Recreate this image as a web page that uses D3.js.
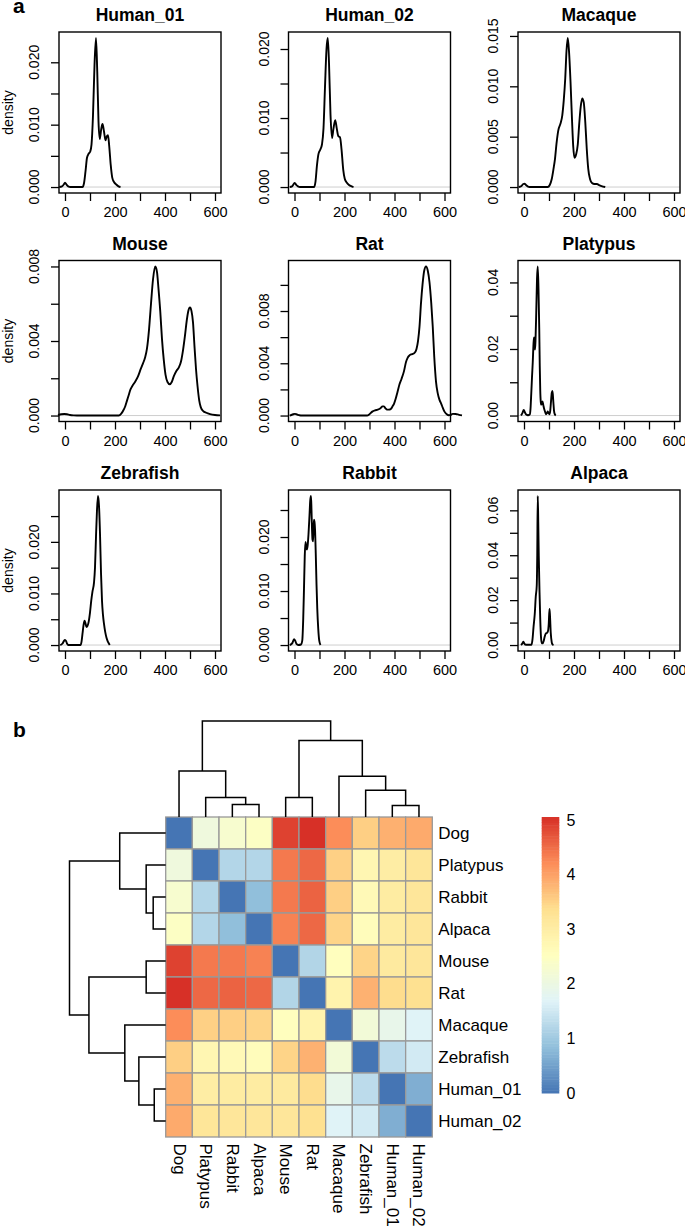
<!DOCTYPE html>
<html><head><meta charset="utf-8">
<script src="https://cdn.jsdelivr.net/npm/d3@7"></script>
<style>
html,body{margin:0;padding:0;background:#fff;}
svg{display:block;font-family:"Liberation Sans",Arial,Helvetica,sans-serif;}
</style></head><body>
<svg id="chart" width="685" height="1232"></svg>
<script>
// ---------------- DATA: panel a (density curves) ----------------
const panelNames = ["Human_01","Human_02","Macaque","Mouse","Rat","Platypus","Zebrafish","Rabbit","Alpaca"];

const densHuman01 = [[-23,0],[-12,0.0001],[-5,0.0004],[0,0.0007],[6,0.0004],[13,0.0001],[22,0],[70,0],[76,0.0006],[82,0.0025],[88,0.0047],[94,0.0053],[101,0.0057],[106,0.0068],[112,0.0115],[118,0.0195],[124,0.0239],[129,0.0185],[134,0.0105],[139,0.0077],[145,0.0093],[150,0.0101],[156,0.0089],[162,0.0075],[167,0.0081],[172,0.0083],[177,0.0065],[183,0.0035],[189,0.0015],[196,0.0008],[205,0.0004],[214,0.0001],[222,0]];
const densHuman02 = [[-19,0],[-10,0.0001],[-4,0.0004],[1,0.0006],[7,0.0003],[14,0.0001],[22,0],[78,0],[84,0.0008],[90,0.0032],[96,0.0048],[104,0.0055],[110,0.0062],[116,0.0085],[122,0.0145],[128,0.0200],[133,0.0216],[138,0.0180],[144,0.0105],[150,0.0071],[156,0.0085],[163,0.0097],[169,0.0085],[175,0.0074],[182,0.0072],[188,0.0055],[195,0.0025],[201,0.0012],[208,0.0007],[218,0.0003],[228,0.0001],[236,0]];
const densMacaque = [[-21,0],[-10,0.0001],[-3,0.0003],[2,0.00033],[8,0.0002],[16,0.00005],[28,0],[95,0],[103,0.0002],[111,0.0008],[118,0.0018],[124,0.0028],[130,0.0043],[137,0.0056],[146,0.0063],[153,0.0071],[159,0.0086],[165,0.0108],[170,0.0135],[175,0.0148],[180,0.0135],[186,0.0105],[192,0.0067],[197,0.0040],[202,0.0029],[208,0.0032],[215,0.0042],[221,0.0063],[227,0.0080],[233,0.0088],[239,0.0084],[245,0.0065],[251,0.0038],[257,0.0018],[264,0.0008],[272,0.0004],[282,0.0003],[292,0.0003],[300,0.0002],[310,0.0001],[325,0]];
const densMouse = [[-28,0.00003],[-15,0.00007],[-3,0.00008],[8,0.00007],[20,0.00003],[35,0.00001],[60,0],[215,0],[225,0.0001],[233,0.00027],[241,0.0005],[248,0.0008],[255,0.0011],[262,0.0014],[270,0.0016],[280,0.0018],[292,0.0021],[303,0.0025],[312,0.0028],[320,0.0031],[328,0.0036],[336,0.0046],[344,0.0060],[352,0.0073],[361,0.0080],[368,0.0077],[374,0.0068],[381,0.0056],[388,0.0041],[395,0.0030],[402,0.0022],[410,0.0018],[419,0.00168],[427,0.0018],[435,0.0021],[446,0.0024],[456,0.0026],[464,0.0029],[472,0.0035],[480,0.0043],[487,0.0051],[493,0.0056],[500,0.0058],[506,0.0056],[512,0.0050],[518,0.0037],[524,0.0025],[530,0.0016],[537,0.0008],[543,0.00045],[553,0.00024],[565,0.00015],[580,0.00008],[600,0.00003],[620,0.00001]];
const densRat = [[-19,0],[-8,0.00008],[1,0.00013],[10,0.00008],[20,0.00002],[30,0],[290,0],[300,0.0001],[311,0.0003],[322,0.0004],[333,0.00045],[344,0.00056],[352,0.0007],[358,0.0007],[364,0.00055],[370,0.00045],[378,0.00045],[385,0.0005],[392,0.0007],[398,0.0009],[405,0.0013],[412,0.0018],[420,0.0024],[428,0.0028],[438,0.0034],[446,0.0041],[452,0.0044],[460,0.0046],[470,0.0047],[480,0.0048],[488,0.0051],[494,0.0057],[500,0.0068],[506,0.0086],[512,0.0100],[519,0.0111],[526,0.01141],[533,0.0111],[540,0.0102],[547,0.0086],[553,0.0068],[559,0.0045],[566,0.0026],[573,0.0017],[580,0.0012],[587,0.0009],[593,0.0006],[600,0.0003],[609,0.0001],[617,0.00002],[625,0.00005],[633,0.00013],[645,0.00012],[658,0.00005],[670,0.00001]];
const densPlatypus = [[-12,0],[-6,0.0008],[-1,0.0017],[4,0.0009],[9,0.0003],[16,0.0001],[23,0.0003],[26,0.002],[29,0.0065],[32,0.0115],[35,0.016],[38,0.0215],[40,0.0235],[42,0.0225],[44,0.0198],[46,0.0225],[49,0.031],[52,0.041],[55,0.0448],[58,0.038],[61,0.026],[63,0.015],[65,0.0075],[67,0.0042],[69,0.0033],[71,0.0035],[74,0.0042],[77,0.0032],[80,0.0022],[84,0.0012],[88,0.0004],[92,0.0008],[95,0.0012],[99,0.0006],[102,0.0004],[105,0.0015],[108,0.0042],[111,0.0068],[114,0.0074],[117,0.0045],[120,0.0015],[123,0.0004],[127,0]];
const densZebrafish = [[-19,0],[-10,0.0003],[-4,0.0008],[0,0.001],[4,0.0008],[8,0.0003],[13,0],[62,0],[66,0.0006],[70,0.0022],[74,0.0038],[78,0.0047],[82,0.0042],[86,0.0035],[90,0.0037],[95,0.0046],[100,0.0063],[105,0.0086],[110,0.0104],[116,0.0121],[120,0.0150],[124,0.0210],[128,0.0262],[132,0.0289],[136,0.0270],[140,0.0216],[144,0.0140],[148,0.0086],[152,0.0058],[156,0.0041],[161,0.0025],[166,0.0014],[172,0.0006],[179,0]];
const densRabbit = [[-19,0],[-8,0.0004],[-2,0.0011],[3,0.0008],[8,0.0002],[15,0],[26,0.0001],[31,0.0008],[35,0.005],[38,0.0105],[41,0.0165],[44,0.0191],[47,0.0181],[50,0.0177],[53,0.0186],[56,0.0205],[60,0.0240],[63,0.0268],[66,0.0276],[68,0.0250],[70,0.0215],[72,0.0195],[74,0.0192],[76,0.0215],[78,0.0232],[80,0.0228],[82,0.0215],[85,0.0170],[88,0.0113],[91,0.0068],[95,0.0030],[99,0.0008],[104,0]];
const densAlpaca = [[-12,0],[-6,0.0008],[-3,0.0015],[1,0.0008],[5,0.0002],[12,0.0001],[30,0.0001],[34,0.0025],[38,0.0079],[43,0.0138],[47,0.0215],[51,0.0265],[53,0.040],[55,0.0664],[57,0.055],[59,0.040],[62,0.024],[65,0.0115],[68,0.0035],[71,0.0008],[75,0.0008],[79,0.0019],[83,0.0038],[87,0.0051],[92,0.0054],[96,0.0062],[99,0.0095],[102,0.0161],[104,0.0130],[107,0.0055],[111,0.0012],[114,0.0003],[118,0]];
const densSeries = [densHuman01,densHuman02,densMacaque,densMouse,densRat,densPlatypus,densZebrafish,densRabbit,densAlpaca];

const xLimits = [0, 600];
const xTickValues = [0,100,200,300,400,500,600];
const xLabelValues = [0,200,400,600];
const yTickValues = [
  [0,0.005,0.010,0.015,0.020],
  [0,0.005,0.010,0.015,0.020],
  [0,0.005,0.010,0.015],
  [0,0.002,0.004,0.006,0.008],
  [0,0.002,0.004,0.006,0.008,0.010],
  [0,0.01,0.02,0.03,0.04],
  [0,0.005,0.010,0.015,0.020,0.025],
  [0,0.005,0.010,0.015,0.020,0.025],
  [0,0.01,0.02,0.03,0.04,0.05,0.06]
];
const yTickLabels = [
  ["0.000","0.010","0.020"],
  ["0.000","0.010","0.020"],
  ["0.000","0.005","0.010","0.015"],
  ["0.000","0.004","0.008"],
  ["0.000","0.004","0.008"],
  ["0.00","0.02","0.04"],
  ["0.000","0.010","0.020"],
  ["0.000","0.010","0.020"],
  ["0.00","0.02","0.04","0.06"]
];

// ---------------- DATA: panel b (distance heatmap) ----------------
const leafOrder = ["Dog","Platypus","Rabbit","Alpaca","Mouse","Rat","Macaque","Zebrafish","Human_01","Human_02"];
const distanceMatrix = [
  [0,    2.09, 2.30, 2.45, 4.90, 5.06, 4.22, 3.55, 3.86, 3.92],
  [2.09, 0,    1.21, 1.21, 4.40, 4.55, 3.54, 2.77, 3.02, 3.22],
  [2.30, 1.21, 0,    0.84, 4.40, 4.60, 3.55, 2.68, 3.05, 3.20],
  [2.45, 1.21, 0.84, 0,    4.32, 4.55, 3.50, 2.60, 3.05, 3.20],
  [4.90, 4.40, 4.40, 4.32, 0,    1.20, 2.55, 3.50, 3.10, 3.20],
  [5.06, 4.55, 4.60, 4.55, 1.20, 0,    2.86, 3.85, 3.40, 3.35],
  [4.22, 3.54, 3.55, 3.50, 2.55, 2.86, 0,    2.18, 1.90, 1.70],
  [3.55, 2.77, 2.68, 2.60, 3.50, 3.85, 2.18, 0,    1.30, 1.54],
  [3.86, 3.02, 3.05, 3.05, 3.10, 3.40, 1.90, 1.30, 0,    0.65],
  [3.92, 3.22, 3.20, 3.20, 3.20, 3.35, 1.70, 1.54, 0.65, 0]
];
// hclust-style merges (node i+1 is called "n"+(i+1))
const mergeLeft   = ["Human_01","Rabbit","Platypus","Mouse","Zebrafish","Macaque","Dog","n4","n7"];
const mergeRight  = ["Human_02","Alpaca","n2","Rat","n1","n5","n3","n6","n8"];
const mergeHeight = [0.119, 0.130, 0.203, 0.203, 0.279, 0.425, 0.478, 0.798, 1.0];
const legendTicks = [0,1,2,3,4,5];
const paletteColors = ["#4575b4","#91bfdb","#e0f3f8","#ffffbf","#fee090","#fc8d59","#d73027"];

// ---------------- DRAW ----------------
const svg = d3.select("#chart");
const FONT = '"Liberation Sans",Arial,Helvetica,sans-serif';

// panel label a
svg.append("text").attr("x",13).attr("y",13).attr("font-size",21).attr("font-weight","bold").text("a");

const colLeft = [59, 288.5, 518];
const rowTop = [32, 260.5, 490];
const boxW = 162, boxH = 161;
const line = d3.line().curve(d3.curveMonotoneX);

panelNames.forEach((name, i) => {
  const c = i % 3, r = Math.floor(i / 3);
  const L = colLeft[c], T = rowTop[r];
  const data = densSeries[i];
  const ext = (xLimits[1]-xLimits[0])*0.04;
  const x = d3.scaleLinear().domain([xLimits[0]-ext, xLimits[1]+ext]).range([L, L+boxW]);
  const ymax = d3.max(data, d => d[1]);
  const y = d3.scaleLinear().domain([-0.04*ymax, 1.04*ymax]).range([T+boxH, T]);
  const g = svg.append("g");

  // zero line
  g.append("line").attr("x1",L).attr("x2",L+boxW).attr("y1",y(0)).attr("y2",y(0))
    .attr("stroke","#c8c8c8").attr("stroke-width",0.9);

  // curve
  line.x(d => x(d[0])).y(d => y(d[1]));
  g.append("path").datum(data).attr("d", line).attr("fill","none")
    .attr("stroke","#000").attr("stroke-width",1.9).attr("stroke-linejoin","round");

  // box
  g.append("rect").attr("x",L).attr("y",T).attr("width",boxW).attr("height",boxH)
    .attr("fill","none").attr("stroke","#000").attr("stroke-width",1.4);

  // x axis
  const xa = g.append("g").attr("transform",`translate(0,${T+boxH})`)
    .call(d3.axisBottom(x).tickValues(xTickValues).tickSize(8).tickPadding(6)
      .tickFormat(d => xLabelValues.includes(d) ? String(d) : ""));
  xa.select(".domain").remove();
  xa.selectAll(".tick line").attr("stroke","#000").attr("stroke-width",1.3);
  xa.selectAll(".tick text").attr("font-size",14.5).attr("font-family",FONT).attr("fill","#000");

  // y axis (ticks + rotated labels, R-style)
  const ya = g.append("g").attr("transform",`translate(${L},0)`)
    .call(d3.axisLeft(y).tickValues(yTickValues[i]).tickSize(8).tickFormat(""));
  ya.select(".domain").remove();
  ya.selectAll(".tick line").attr("stroke","#000").attr("stroke-width",1.3);
  yTickLabels[i].forEach(lbl => {
    const v = +lbl;
    g.append("text").attr("transform",`translate(${L-25},${y(v)}) rotate(-90)`)
      .attr("text-anchor","middle").attr("dominant-baseline","central")
      .attr("font-size",14).text(lbl);
  });

  // title
  g.append("text").attr("x",L+boxW/2).attr("y",T-11).attr("text-anchor","middle")
    .attr("font-size",17.5).attr("font-weight","bold").text(name);

  // ylab
  if (c === 0) {
    g.append("text").attr("transform",`translate(8,${T+boxH/2}) rotate(-90)`)
      .attr("text-anchor","middle").attr("dominant-baseline","central")
      .attr("font-size",14).text("density");
  }
});

// ---------------- panel b ----------------
svg.append("text").attr("x",13).attr("y",737).attr("font-size",21).attr("font-weight","bold").text("b");

const hmLeft = 165.7, hmRight = 432.3, hmTop = 817, hmBottom = 1137;
const xBand = d3.scaleBand().domain(leafOrder).range([hmLeft, hmRight]);
const yBand = d3.scaleBand().domain(leafOrder).range([hmTop, hmBottom]);
const maxVal = d3.max(distanceMatrix.flat());
const color = d3.scaleLinear()
  .domain(paletteColors.map((_, k) => maxVal * k / (paletteColors.length - 1)))
  .range(paletteColors).interpolate(d3.interpolateRgb);

const cells = [];
distanceMatrix.forEach((row, ri) => row.forEach((v, ci) => cells.push({r: leafOrder[ri], c: leafOrder[ci], v})));
svg.append("g").selectAll("rect").data(cells).join("rect")
  .attr("x", d => xBand(d.c)).attr("y", d => yBand(d.r))
  .attr("width", xBand.bandwidth()).attr("height", yBand.bandwidth())
  .attr("fill", d => color(d.v)).attr("stroke","#999999").attr("stroke-width",1.3);

// row labels
svg.append("g").selectAll("text").data(leafOrder).join("text")
  .attr("x", hmRight + 6).attr("y", d => yBand(d) + yBand.bandwidth()/2)
  .attr("dominant-baseline","central").attr("font-size",17).text(d => d);
// column labels
svg.append("g").selectAll("text").data(leafOrder).join("text")
  .attr("transform", d => `translate(${xBand(d) + xBand.bandwidth()/2},${hmBottom + 6.5}) rotate(90)`)
  .attr("dominant-baseline","central").attr("font-size",17).text(d => d);

// dendrograms
const colH = d3.scaleLinear().domain([0, d3.max(mergeHeight)]).range([hmTop, 721]);
const rowH = d3.scaleLinear().domain([0, d3.max(mergeHeight)]).range([hmLeft, 69.5]);
const posCol = {}, posRow = {};
leafOrder.forEach(n => {
  posCol[n] = {p: xBand(n) + xBand.bandwidth()/2, h: 0};
  posRow[n] = {p: yBand(n) + yBand.bandwidth()/2, h: 0};
});
const colPaths = [], rowPaths = [];
mergeHeight.forEach((h, k) => {
  const a = mergeLeft[k], b = mergeRight[k], id = "n" + (k+1);
  const A = posCol[a], B = posCol[b];
  colPaths.push(`M${A.p},${colH(A.h)}V${colH(h)}H${B.p}V${colH(B.h)}`);
  posCol[id] = {p: (A.p + B.p)/2, h};
  const Ar = posRow[a], Br = posRow[b];
  rowPaths.push(`M${rowH(Ar.h)},${Ar.p}H${rowH(h)}V${Br.p}H${rowH(Br.h)}`);
  posRow[id] = {p: (Ar.p + Br.p)/2, h};
});
svg.append("g").selectAll("path").data(colPaths.concat(rowPaths)).join("path")
  .attr("d", d => d).attr("fill","none").attr("stroke","#000").attr("stroke-width",1.5);

// legend
const legY = d3.scaleLinear().domain([0, maxVal]).range([1093, 817]);
const nSteps = 100;
const legG = svg.append("g");
d3.range(nSteps).forEach(k => {
  const v0 = maxVal * k / nSteps, v1 = maxVal * (k+1) / nSteps;
  legG.append("rect").attr("x",541.7).attr("width",17.6)
    .attr("y", legY(v1)).attr("height", legY(v0) - legY(v1) + 0.5)
    .attr("fill", color((v0+v1)/2));
});
legG.selectAll("text").data(legendTicks).join("text")
  .attr("x", 566.5).attr("y", d => legY(d)).attr("dominant-baseline","central")
  .attr("font-size",16).text(d => d);
</script>
</body></html>
